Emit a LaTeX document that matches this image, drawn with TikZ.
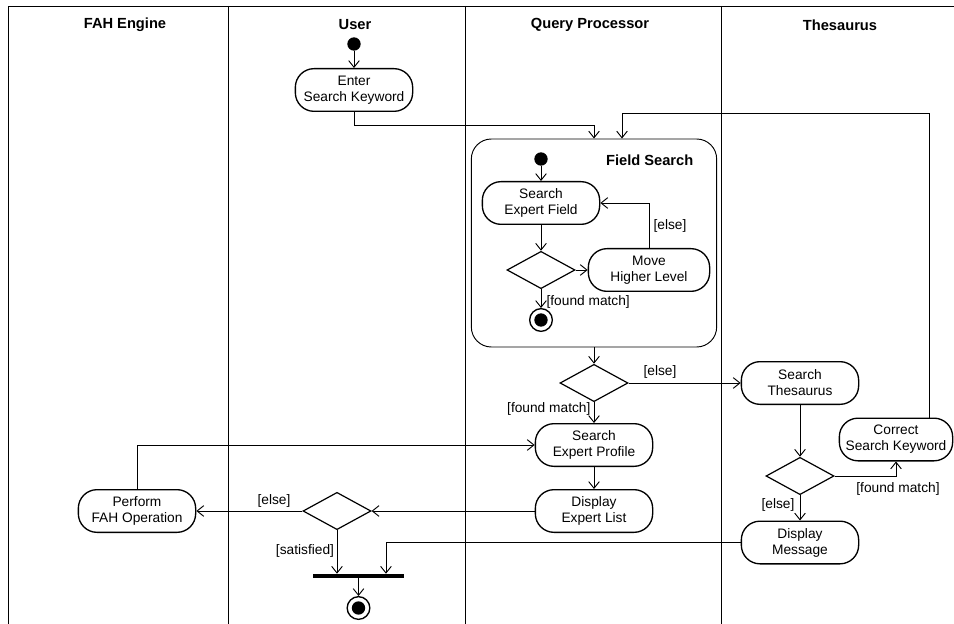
\documentclass[tikz,border=0pt]{standalone}
\usepackage{fontspec}
\setmainfont{Liberation Sans}
\usetikzlibrary{shapes.geometric,arrows.meta}

\begin{document}
\begin{tikzpicture}[x=0.75pt,y=-0.75pt,
    font=\fontsize{10.3}{12}\selectfont,
    lane/.style={line width=0.7pt},
    lanehead/.style={font=\fontsize{11}{13}\selectfont\bfseries},
    activity/.style={draw,line width=1pt,rounded corners=14pt,align=center,minimum width=88pt,minimum height=32pt,inner sep=1pt},
    decision/.style={draw,diamond,line width=0.9pt,minimum width=51pt,minimum height=28pt,inner sep=0pt},
    startdot/.style={circle,fill,minimum size=10pt,inner sep=0pt},
    enddot/.style={circle,draw,line width=1pt,minimum size=17pt,inner sep=0pt,path picture={\fill (path picture bounding box.center) circle (5pt);}},
    joinbar/.style={fill,minimum width=68pt,minimum height=3pt,inner sep=0pt},
    region/.style={draw,line width=0.7pt,rounded corners=15pt,minimum width=184pt,minimum height=156pt},
    guard/.style={inner sep=1pt},
    flow/.style={-{Straight Barb[length=5pt,width=8pt]},line width=0.7pt}]
    	        \useasboundingbox (0,0) rectangle (954,624);
    	        \draw[lane] (8,624) -- (8,6) -- (954,6);
    	        \foreach \x in {228,465,721} \draw[lane] (\x,6) -- (\x,624);
    	        
    	        \node[lanehead] at (125,25) (hfah) {FAH Engine};
    	        \node[lanehead] at (355,25) (huser) {User};
    	        \node[lanehead] at (590,25) (hqp) {Query Processor};
    	        \node[lanehead] at (840,25) (hthes) {Thesaurus};
    	        
    	        \node[startdot] at (354,44) (s0) {};
    	        \node[activity] at (354,90) (enter) {Enter\\Search Keyword};
    	        \node[region] at (594,243) (fs) {};
    	        \node[lanehead,anchor=east] at (698,160) (fslabel) {Field Search};
    	        \node[startdot] at (541,159) (s1) {};
    	        \node[activity] at (541,203) (sef) {Search\\Expert Field};
    	        \node[decision] at (541,270) (d1) {};
    	        \node[activity,minimum width=91pt] at (649,270) (mhl) {Move\\Higher Level};
    	        \node[enddot] at (541,320) (f1) {};
    	        \node[decision] at (594,383) (d2) {};
    	        \node[activity] at (594,445) (sep) {Search\\Expert Profile};
    	        \node[activity] at (594,511) (del) {Display\\Expert List};
    	        \node[decision] at (337,511) (d3) {};
    	        \node[activity] at (137,511) (perf) {Perform\\FAH Operation};
    	        \node[joinbar] at (358.5,576) (join) {};
    	        \node[enddot] at (358.5,608) (f2) {};
    	        \node[activity] at (800,383) (sth) {Search\\Thesaurus};
    	        \node[decision] at (800,476) (d4) {};
    	        \node[activity,minimum width=85pt] at (896,439.5) (csk) {Correct\\Search Keyword};
    	        \node[activity] at (800,542.5) (dmsg) {Display\\Message};
    	        \coordinate (loop) at (622,113);
    	        
    	        \draw[flow] (s0) -- (enter);
    	        \draw[flow] (enter.south) -- ++(0,13) -| (fs.north);
    	        \draw[flow] ([xshift=24.75pt]csk.north) |- (loop) -- ([xshift=21pt]fs.north);
    	        \draw[flow] (s1) -- (sef);
    	        \draw[flow] (sef) -- (d1);
    	        \draw[flow] (d1) -- (mhl);
    	        \draw[flow] (mhl.north) |- (sef.east);
    	        \node[guard] at (670,226) (g1) {[else]};
    	        \draw[flow] (d1) -- (f1);
    	        \node[guard,anchor=west] at (545,302) (g2) {[found match]};
    	        \draw[flow] (fs) -- (d2);
    	        \draw[flow] (d2) -- (sth);
    	        \node[guard] at (660,372) (g3) {[else]};
    	        \draw[flow] (d2) -- (sep);
    	        \node[guard,anchor=east] at (592,409) (g4) {[found match]};
    	        \draw[flow] (sep) -- (del);
    	        \draw[flow] (del) -- (d3);
    	        \draw[flow] (d3) -- (perf);
    	        \node[guard] at (274,501) (g5) {[else]};
    	        \draw[flow] (perf.north) |- (sep.west);
    	        \draw[flow] (d3.south) -- (d3.south |- join.north);
    	        \node[guard] at (305,551) (g6) {[satisfied]};
    	        \draw[flow] (dmsg.west) -| ([xshift=20.6pt]join.north);
    	        \draw[flow] (join) -- (f2);
    	        \draw[flow] (sth) -- (d4);
    	        \draw[flow] (d4.east) -| (csk.south);
    	        \node[guard] at (898,489) (g7) {[found match]};
    	        \draw[flow] (d4) -- (dmsg);
    	        \node[guard,anchor=east] at (796,505) (g8) {[else]};
    	    \end{tikzpicture}
\end{document}
